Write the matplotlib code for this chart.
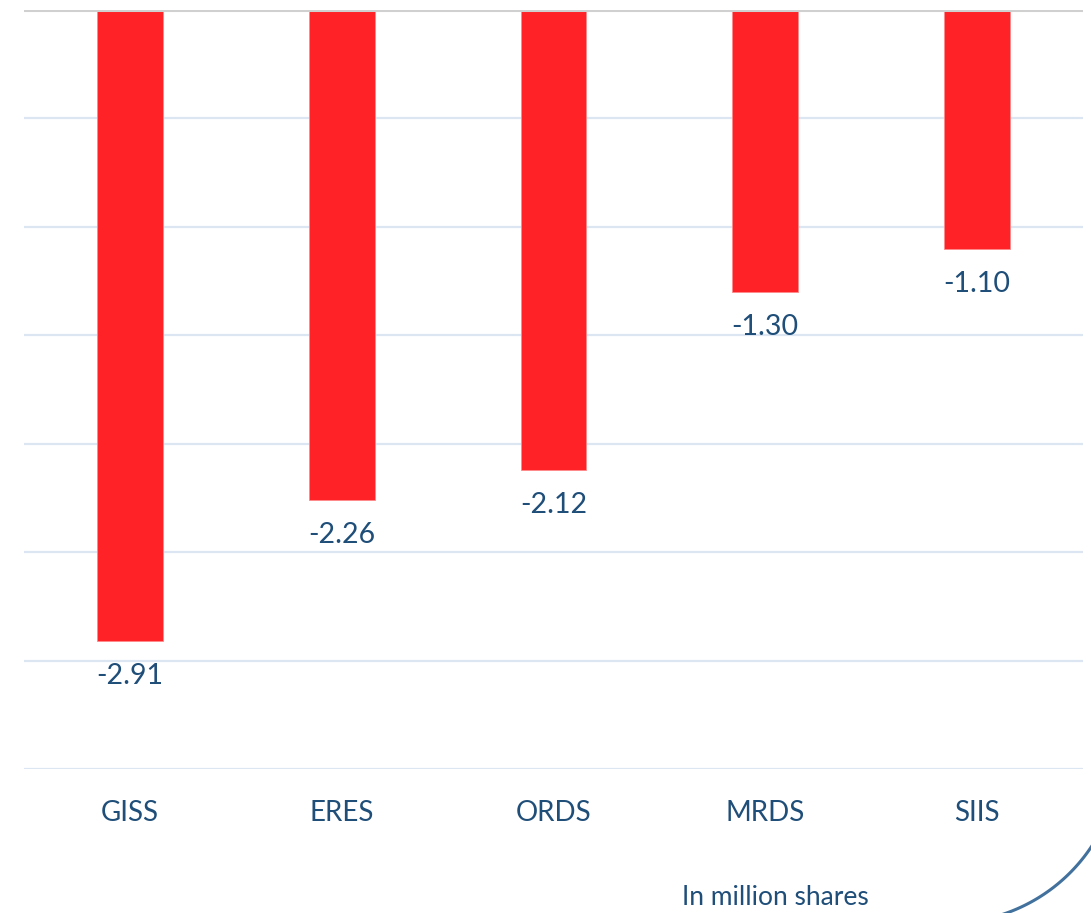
import numpy as np
import matplotlib
matplotlib.use("Agg")
import matplotlib.pyplot as plt
from matplotlib.lines import Line2D

# Valores (millones de acciones)
tickers = ["GISS", "ERES", "ORDS", "MRDS", "SIIS"]
valores = [-2.91, -2.26, -2.12, -1.30, -1.10]
y_ticks = [0, -0.5, -1.0, -1.5, -2.0, -2.5, -3.0, -3.5]

W, H = 1091, 913
plt.rcParams['font.family'] = ['Lato', 'DejaVu Sans']
fig = plt.figure(figsize=(W / 100, H / 100), dpi=100)
ax = fig.add_axes([24 / W, 1 - 769 / H, (1083 - 24) / W, (769 - 10) / H])

texto = '#1f4e79'
x = np.arange(len(tickers))
ax.bar(x, valores, width=0.31, color='#ff2226', edgecolor='#ff8a8a', linewidth=0.6, zorder=3)

for xi, v in zip(x, valores):
    ax.annotate(f"{v:.2f}", (xi, v), xytext=(0, -22), textcoords='offset pixels',
                ha='center', va='top', fontsize=20.5, color=texto)

ax.set_xlim(-0.5, len(tickers) - 0.5)
ax.set_ylim(-3.5, 0)
ax.set_yticks(y_ticks)
ax.set_yticklabels([])
ax.tick_params(axis='y', length=0)
ax.set_xticks(x)
ax.set_xticklabels(tickers, fontsize=20, color=texto)
ax.tick_params(axis='x', length=0, pad=22)
ax.grid(axis='y', color='#dce6f2', linewidth=1.6, zorder=0)
ax.axhline(0, color='#d0d0d0', linewidth=2.2, zorder=4)
for s in ax.spines.values():
    s.set_visible(False)

fig.text(775 / W, 1 - 897 / H, "In million shares", ha='center', va='center',
         fontsize=19, color=texto)

# arco decorativo abajo a la derecha
t = np.linspace(0, 2 * np.pi, 400)
cx, cy, r = 949, 752, 171
px = cx + r * np.cos(t)
py = cy + r * np.sin(t)
m = (px >= 1000) & (py >= 820)
fig.add_artist(Line2D(px[m] / W, 1 - py[m] / H, transform=fig.transFigure,
                      color='#41719c', linewidth=2.2))

fig.savefig("out.png", dpi=100)
